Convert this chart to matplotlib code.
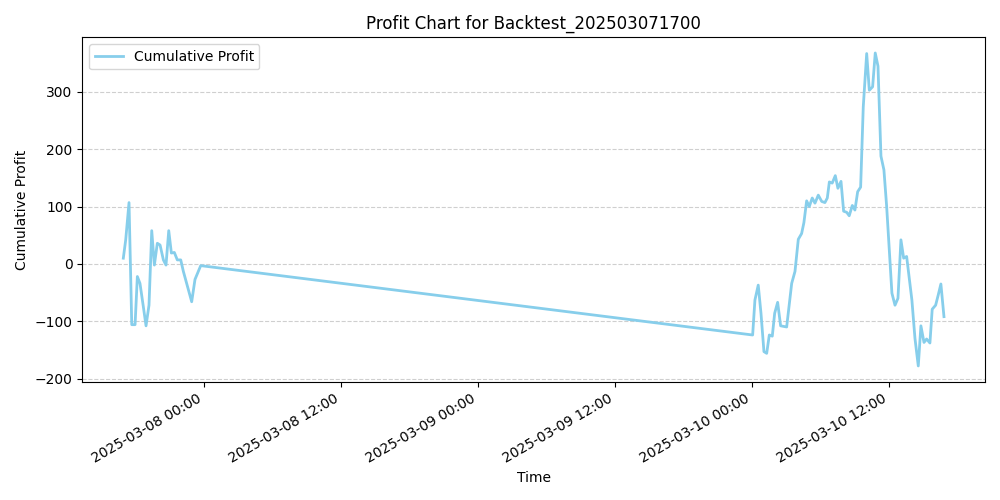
import matplotlib
matplotlib.use("Agg")
import matplotlib.pyplot as plt
import matplotlib.dates as mdates
import pandas as pd

# hours relative to 2025-03-08 00:00 (first block) and 2025-03-10 00:00 (second block)
hours_day1 = [-7.07, -6.86, -6.57, -6.33, -6.04, -5.84, -5.61, -5.32, -5.08, -4.82, -4.58, -4.35,
              -4.09, -3.85, -3.56, -3.33, -3.09, -2.86, -2.60, -2.34, -2.04, -1.81, -1.08, -0.79, -0.29]
profit_day1 = [10, 42, 107, -106, -106, -22, -34, -74, -108, -72, 58, -2,
               36, 33, 7, -2, 58, 19, 20, 7, 7, -13, -66, -27, -3]
hours_day3 = [0.06, 0.26, 0.55, 0.79, 1.05, 1.29, 1.52, 1.78, 1.99, 2.25, 2.51, 3.04, 3.48, 3.77,
              4.06, 4.35, 4.55, 4.79, 5.02, 5.28, 5.52, 5.81, 6.11, 6.39, 6.60, 6.78, 7.03, 7.30,
              7.53, 7.80, 8.03, 8.30, 8.52, 8.79, 9.02, 9.26, 9.52, 9.75, 10.05, 10.28, 10.57, 10.80,
              11.04, 11.30, 11.56, 11.80, 12.26, 12.53, 12.79, 13.05, 13.29, 13.55, 14.01, 14.28,
              14.57, 14.80, 15.07, 15.30, 15.59, 15.79, 16.09, 16.32, 16.55, 16.82]
profit_day3 = [-124, -63, -37, -86, -153, -156, -124, -126, -86, -67, -108, -110, -34, -13,
               43, 53, 72, 110, 100, 115, 106, 120, 109, 107, 115, 143, 141, 154,
               132, 144, 92, 90, 84, 102, 94, 126, 134, 274, 367, 303, 309, 368,
               345, 188, 164, 100, -51, -72, -60, 42, 10, 13, -63, -130,
               -178, -108, -137, -131, -138, -79, -72, -54, -35, -92]

base1 = pd.Timestamp("2025-03-08 00:00")
base3 = pd.Timestamp("2025-03-10 00:00")
times = [base1 + pd.Timedelta(hours=h) for h in hours_day1] + \
        [base3 + pd.Timedelta(hours=h) for h in hours_day3]
profit = profit_day1 + profit_day3

fig, ax = plt.subplots(figsize=(10, 5), dpi=100)
ax.plot(times, profit, color="skyblue", linewidth=2, label="Cumulative Profit")
ax.set_title("Profit Chart for Backtest_202503071700")
ax.set_xlabel("Time")
ax.set_ylabel("Cumulative Profit")
ax.grid(axis="y", linestyle="--", alpha=0.6)
ax.legend(loc="upper left")
ax.xaxis.set_major_locator(mdates.HourLocator(byhour=[0, 12]))
ax.xaxis.set_major_formatter(mdates.DateFormatter("%Y-%m-%d %H:%M"))
fig.autofmt_xdate()
fig.tight_layout()
fig.savefig("out.png")
